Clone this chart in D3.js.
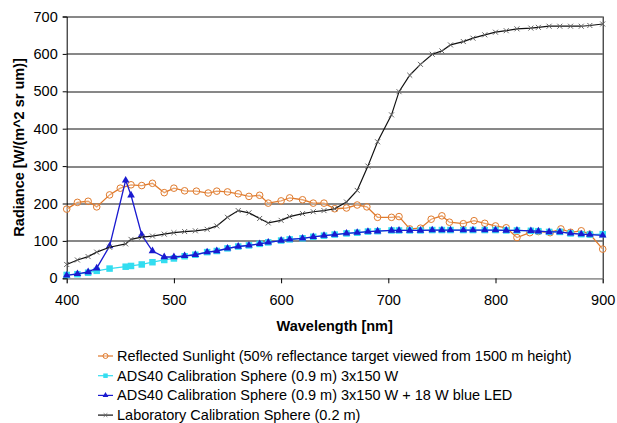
<!DOCTYPE html>
<html>
<head>
<meta charset="utf-8">
<script src="https://cdn.jsdelivr.net/npm/d3@7"></script>
<style>
  html, body { margin: 0; padding: 0; background: #fff; }
  svg { display: block; font-family: 'Liberation Sans', Arial, sans-serif; }
</style>
</head>
<body>
<div id="chart"></div>
<script>
// Wavelengths (nm) — sunlight series has its own sampling
const wlSun = [400, 410, 420, 428, 440, 450, 460, 470, 480, 491, 500, 510, 521, 532, 540, 550, 560, 570, 580, 588,
  600, 608, 620, 630, 640, 650, 661, 671, 680, 690, 703, 710, 720, 730, 740, 750, 757, 770, 780, 790,
  800, 810, 820, 832, 840, 851, 861, 870, 880, 888, 900];
const wlSphere = [400, 410, 420, 428, 440, 455, 460, 470, 480, 491, 500, 510, 520, 531, 540, 550, 560, 570, 580, 588,
  600, 608, 620, 630, 640, 650, 661, 671, 681, 690, 703, 710, 720, 730, 741, 750, 758, 770, 779, 790,
  800, 810, 820, 833, 840, 850, 860, 870, 880, 888, 900];

const sunlight = [185, 203, 206, 191, 223, 241, 250, 248, 254, 229, 241, 234, 233, 228, 233, 231, 226, 219, 222, 201,
  207, 215, 210, 201, 201, 186, 188, 196, 191, 163, 163, 165, 132, 134, 158, 167, 150, 146, 154, 147,
  140, 135, 109, 122, 125, 122, 132, 123, 127, 118, 78];
const ads40 = [9, 11, 15, 20, 26, 31, 33, 37, 43, 49, 53, 59, 63, 70, 73, 80, 85, 88, 92, 96,
  101, 104, 107, 111, 114, 117, 120, 122, 125, 126, 128, 128, 128, 128, 129, 129, 129, 129, 129, 129,
  129, 128, 128, 127, 126, 124, 124, 120, 118, 117, 118];
const ads40Led = [8, 12, 17, 27, 86, 262, 222, 116, 73, 57, 57, 60, 63, 70, 73, 80, 85, 88, 92, 96,
  101, 104, 107, 111, 114, 117, 120, 122, 125, 126, 128, 128, 128, 128, 129, 129, 129, 129, 129, 129,
  129, 128, 128, 127, 126, 124, 124, 120, 118, 117, 115];
const labSphere = [37, 49, 58, 70, 83, 92, 104, 110, 113, 118, 122, 125, 127, 131, 140, 163, 181, 175, 160, 148,
  155, 165, 173, 178, 181, 186, 204, 235, 300, 365, 437, 499, 543, 572, 599, 608, 624, 633, 642, 651,
  658, 662, 667, 669, 671, 674, 674, 674, 674, 676, 680];

const xTicks = [400, 500, 600, 700, 800, 900];
const yTicks = [0, 100, 200, 300, 400, 500, 600, 700];

const seriesNames = [
  'Reflected Sunlight (50% reflectance target viewed from 1500 m height)',
  'ADS40 Calibration Sphere (0.9 m) 3x150 W',
  'ADS40 Calibration Sphere (0.9 m) 3x150 W + 18 W blue LED',
  'Laboratory Calibration Sphere (0.2 m)',
];

const series = [
  { name: seriesNames[0], wl: wlSun, values: sunlight, color: '#e07a2c', marker: 'circle' },
  { name: seriesNames[1], wl: wlSphere, values: ads40, color: '#33ddf0', marker: 'square' },
  { name: seriesNames[2], wl: wlSphere, values: ads40Led, color: '#1a1ad0', marker: 'triangle' },
  { name: seriesNames[3], wl: wlSphere, values: labSphere, color: '#111111', marker: 'cross' },
];

const W = 617, H = 423;
const margin = { top: 16.5, right: 14.3, bottom: 144.7, left: 66.7 };
const width = W - margin.left - margin.right;
const height = H - margin.top - margin.bottom;

const svg = d3.select('#chart').append('svg').attr('width', W).attr('height', H);
const g = svg.append('g').attr('transform', `translate(${margin.left},${margin.top})`);

const x = d3.scaleLinear().domain([400, 900]).range([0, width]);
const y = d3.scaleLinear().domain([0, 700]).range([height, 0]);

// Gridlines (200 and 0 drawn grey, 200 heavier, as in the source)
g.selectAll('.grid')
  .data(yTicks)
  .enter()
  .append('line')
  .attr('x1', 0).attr('x2', width)
  .attr('y1', (d) => Math.round(y(d)) + 0.5).attr('y2', (d) => Math.round(y(d)) + 0.5)
  .attr('stroke', (d) => (d === 200 || d === 0) ? '#888' : '#111')
  .attr('stroke-width', (d) => d === 200 ? 2 : 1);

// Right border
g.append('line')
  .attr('x1', Math.round(width) + 0.5).attr('x2', Math.round(width) + 0.5)
  .attr('y1', 0).attr('y2', height)
  .attr('stroke', '#000');

const yAxis = g.append('g')
  .call(d3.axisLeft(y).tickValues(yTicks).tickSize(4).tickPadding(5));
const xAxis = g.append('g')
  .attr('transform', `translate(0,${height})`)
  .call(d3.axisBottom(x).tickValues(xTicks).tickSize(5).tickPadding(11));
[yAxis, xAxis].forEach((ax) => {
  ax.selectAll('text').attr('font-size', 14.5).attr('font-family', 'Liberation Sans, Arial, sans-serif').attr('fill', '#000');
  ax.selectAll('line').attr('stroke', '#000');
});
yAxis.select('.domain').attr('stroke', '#000');
xAxis.select('.domain').attr('stroke', '#888');

// Axis titles
svg.append('text')
  .attr('x', margin.left + width / 2)
  .attr('y', 330.5)
  .attr('text-anchor', 'middle')
  .attr('font-size', 14.5).attr('font-weight', 'bold')
  .text('Wavelength [nm]');
svg.append('text')
  .attr('transform', `translate(24,${margin.top + height / 2}) rotate(-90)`)
  .attr('text-anchor', 'middle')
  .attr('font-size', 14.5).attr('font-weight', 'bold')
  .text('Radiance [W/(m^2 sr um)]');

// Marker drawing
function drawMarker(sel, kind, color, size) {
  if (kind === 'circle') {
    sel.append('circle').attr('r', size * 0.55).attr('fill', '#fff').attr('fill-opacity', 0.3)
      .attr('stroke', color).attr('stroke-width', 1);
  } else if (kind === 'square') {
    sel.append('rect').attr('x', -size / 2).attr('y', -size / 2).attr('width', size).attr('height', size)
      .attr('fill', color);
  } else if (kind === 'triangle') {
    sel.append('path').attr('d', d3.symbol(d3.symbolTriangle, size * size * 0.7)).attr('fill', color);
  } else {
    sel.append('path').attr('d', d3.symbol(d3.symbolTimes, size * size * 0.5))
      .attr('fill', 'none').attr('stroke', '#666').attr('stroke-width', 1);
  }
}

const line = d3.line().x((d) => x(d.wl)).y((d) => y(d.v));

series.forEach((s) => {
  const pts = s.wl.map((wl, i) => ({ wl, v: s.values[i] }));
  g.append('path')
    .datum(pts)
    .attr('d', line)
    .attr('fill', 'none')
    .attr('stroke', s.color)
    .attr('stroke-width', s.marker === 'cross' ? 1.2 : 1.3);
  pts.forEach((p) => {
    const m = g.append('g').attr('transform', `translate(${x(p.wl)},${y(p.v)})`);
    drawMarker(m, s.marker, s.color, s.marker === 'square' ? 6.5 : 6);
  });
});

// Legend
const legend = svg.append('g').attr('transform', 'translate(98,356)');
series.forEach((s, i) => {
  const row = legend.append('g').attr('transform', `translate(0,${i * 19.7})`);
  row.append('line').attr('x1', 0).attr('x2', 15).attr('y1', 0).attr('y2', 0)
    .attr('stroke', s.color).attr('stroke-width', 1.2);
  const m = row.append('g').attr('transform', 'translate(7.5,0)');
  drawMarker(m, s.marker, s.color, 4.5);
  row.append('text').attr('x', 19).attr('y', 5).attr('font-size', 14.5).text(s.name);
});
</script>
</body>
</html>
